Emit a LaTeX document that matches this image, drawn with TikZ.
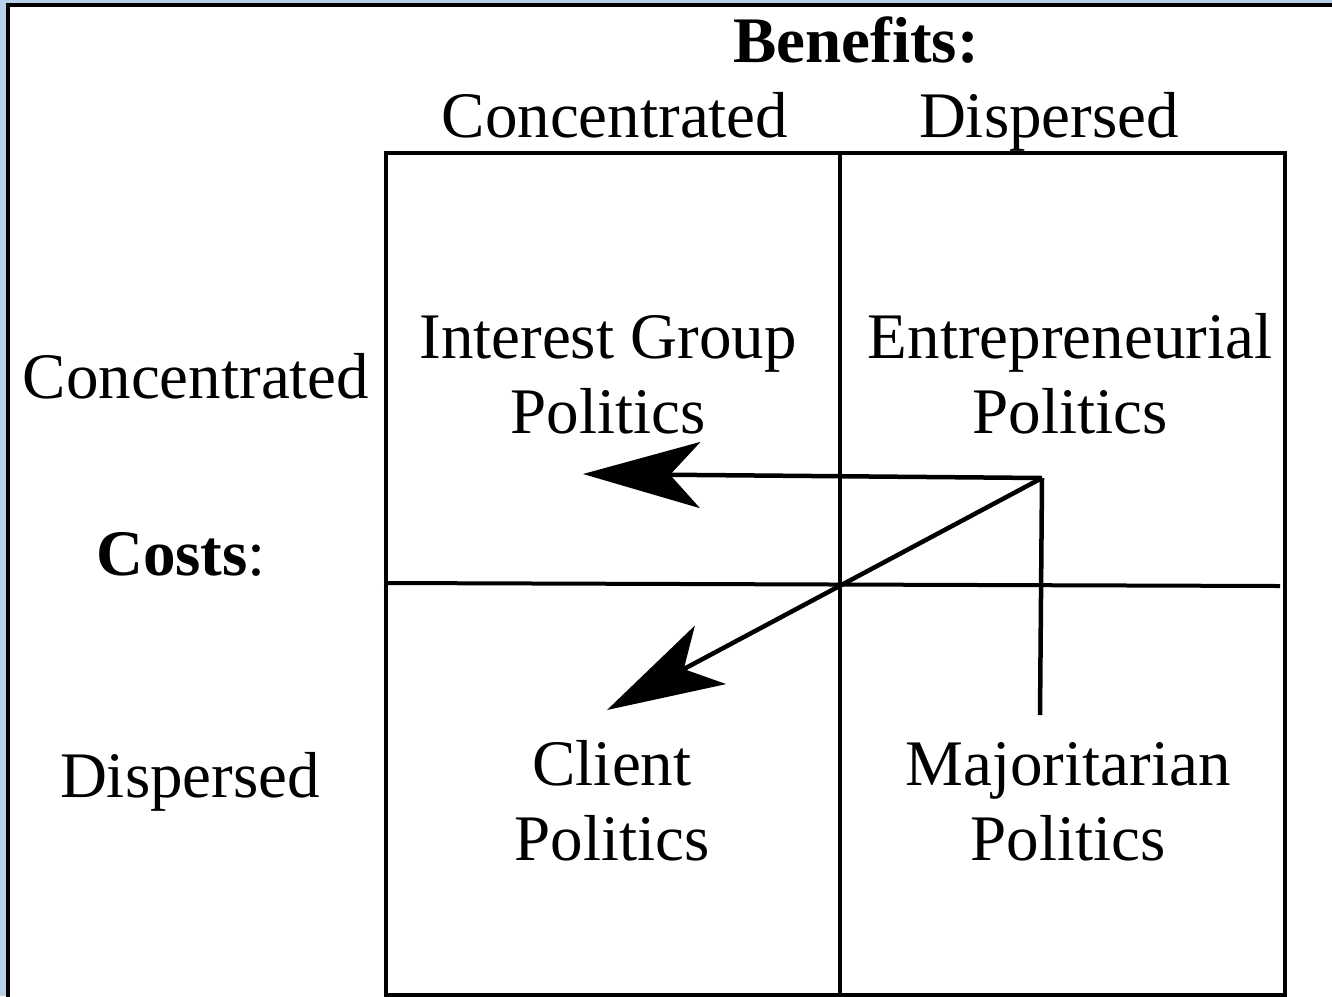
\documentclass[tikz,border=0pt]{standalone}
\usepackage{fontspec}
\setmainfont{Liberation Serif}
\usetikzlibrary{arrows.meta}
\definecolor{bgblue}{HTML}{B8D1E8}
\tikzset{
  lbl/.style={inner sep=0pt, anchor=base, font=\fontsize{65}{75}\selectfont},
  cell/.style={lbl, align=center},
  gridline/.style={line width=4pt, line cap=rect},
  arr/.style={line width=4.5pt, -{Stealth[length=117pt, width=66pt, inset=30pt]}},
}
\begin{document}
\begin{tikzpicture}[x=1pt, y=-1pt]
\useasboundingbox (0,0) rectangle (1332,996);
\fill[bgblue] (0,0) rectangle (1332,996);
\draw[line width=4pt, fill=white] (8,5) rectangle (1345,1010);
% grid
\draw[gridline] (386,153) rectangle (1285,995);
\draw[gridline] (840,153) -- (840,995);
\draw[gridline] (386,583) -- (1278,586);
% headings
\node[lbl] (ben) at (856,62) {\textbf{Benefits:}};
\node[lbl] (bc) at (615,137) {Concentrated};
\node[lbl] (bd) at (1049,137) {Dispersed};
\node[lbl] (cc) at (196,398) {Concentrated};
\node[lbl] (cost) at (181,575) {\textbf{Costs}:};
\node[lbl] (cd) at (190,797) {Dispersed};
% cells
\node[cell] (ig) at (608,433) {Interest Group\\Politics};
\node[cell] (ent) at (1070,433) {Entrepreneurial\\Politics};
\node[cell] (cl) at (612,860) {Client\\Politics};
\node[cell] (maj) at (1068,860) {Majoritarian\\Politics};
% arrows
\coordinate (s) at (1042,478);
\coordinate (t1) at (583,474);
\coordinate (t2) at (607,710);
\coordinate (vend) at (1040,715);
\draw[arr] (s) -- (t1);
\draw[arr] (s) -- (t2);
\draw[line width=4.5pt] (s) -- (vend);
\end{tikzpicture}
\end{document}
